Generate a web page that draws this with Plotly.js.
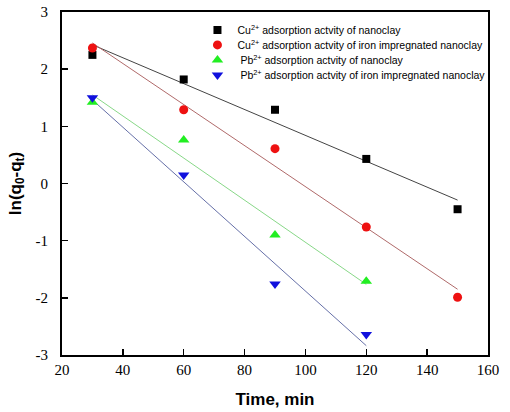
<!DOCTYPE html>
<html>
<head>
<meta charset="utf-8">
<script src="https://cdn.plot.ly/plotly-3.0.1.min.js"></script>
<style>html,body{margin:0;padding:0;background:#fff;}#chart{width:510px;height:412px;}</style>
</head>
<body>
<div id="chart"></div>
<script>
// Time (min)
var timeCu = [30, 60, 90, 120, 150];
var timePb = [30, 60, 90, 120];
// ln(q0 - qt) values
var cuNanoclay = [2.25, 1.82, 1.29, 0.43, -0.45];
var cuIronNanoclay = [2.37, 1.29, 0.61, -0.76, -1.99];
var pbNanoclay = [1.42, 0.76, -0.90, -1.71];
var pbIronNanoclay = [1.50, 0.15, -1.76, -2.64];

var seriesNames = [
  'Cu<sup>2+</sup> adsorption actvity of nanoclay',
  'Cu<sup>2+</sup> adsorption actvity of iron impregnated nanoclay',
  ' Pb<sup>2+</sup> adsorption actvity of nanoclay',
  ' Pb<sup>2+</sup> adsorption actvity of iron impregnated nanoclay'
];
var xTicks = [20, 40, 60, 80, 100, 120, 140, 160];
var yTicks = [-3, -2, -1, 0, 1, 2, 3];

// least-squares linear fit of each series (the drawn fit lines)
function fit(xs, ys) {
  var n = xs.length, mx = 0, my = 0;
  for (var i = 0; i < n; i++) { mx += xs[i]; my += ys[i]; }
  mx /= n; my /= n;
  var sxy = 0, sxx = 0;
  for (var j = 0; j < n; j++) { sxy += (xs[j]-mx)*(ys[j]-my); sxx += (xs[j]-mx)*(xs[j]-mx); }
  var b = sxy / sxx, a = my - b*mx;
  var x0 = xs[0], x1 = xs[n-1];
  return {x: [x0, x1], y: [a + b*x0, a + b*x1]};
}

var specs = [
  {x: timeCu, y: cuNanoclay, sym: 'square', col: '#000000', line: '#444444', size: 8},
  {x: timeCu, y: cuIronNanoclay, sym: 'circle', col: '#ee1111', line: '#b06a6a', size: 9},
  {x: timePb, y: pbNanoclay, sym: 'triangle-up', col: '#22ee22', line: '#88d888', size: 10},
  {x: timePb, y: pbIronNanoclay, sym: 'triangle-down', col: '#1010dd', line: '#6670a8', size: 10}
];

var traces = [];
specs.forEach(function(s, i) {
  var f = fit(s.x, s.y);
  traces.push({x: f.x, y: f.y, mode: 'lines', type: 'scatter', showlegend: false,
    line: {color: s.line, width: 1}, hoverinfo: 'skip'});
});
specs.forEach(function(s, i) {
  traces.push({x: s.x, y: s.y, mode: 'markers', type: 'scatter', name: seriesNames[i],
    marker: {symbol: s.sym, color: s.col, size: s.size, line: {width: 0}}});
});

var layout = {
  width: 510, height: 412,
  margin: {l: 62, r: 22, t: 12, b: 57},
  paper_bgcolor: '#fff', plot_bgcolor: '#fff',
  showlegend: true,
  legend: {x: 0.318, y: 0.99, xanchor: 'left', yanchor: 'top',
    bgcolor: 'rgba(0,0,0,0)', font: {family: 'Liberation Sans, Arial', size: 10.5, color: '#000'},
    tracegroupgap: 0, itemwidth: 30},
  xaxis: {range: [20, 160], tickvals: xTicks, ticktext: xTicks.map(String),
    ticks: 'inside', ticklen: 6, tickwidth: 1.5, tickcolor: '#000',
    showline: true, linecolor: '#000', linewidth: 2, mirror: true,
    showgrid: false, zeroline: false,
    tickfont: {family: 'Liberation Serif, Times New Roman', size: 15, color: '#000'},
    title: {text: '<b>Time, min</b>', font: {family: 'Liberation Sans, Arial', size: 17, color: '#000'}, standoff: 16}},
  yaxis: {range: [-3, 3], tickvals: yTicks, ticktext: yTicks.map(String),
    ticks: 'inside', ticklen: 6, tickwidth: 1.5, tickcolor: '#000',
    showline: true, linecolor: '#000', linewidth: 2, mirror: true,
    showgrid: false, zeroline: false, ticklabelstandoff: 9,
    tickfont: {family: 'Liberation Serif, Times New Roman', size: 15, color: '#000'},
    title: {text: '<b>ln(q<sub>0</sub>-q<sub>t</sub>)</b>', font: {family: 'Liberation Sans, Arial', size: 17, color: '#000'}, standoff: 10}}
};

Plotly.newPlot('chart', traces, layout, {displayModeBar: false, staticPlot: true}).then(function(gd) {
  // tighten legend row spacing to match the reference (15px per row)
  var items = gd.querySelectorAll('.legend .traces');
  var y0 = null;
  for (var i = 0; i < items.length; i++) {
    var t = items[i].getAttribute('transform') || '';
    var m = /translate\(\s*([-\d.]+)[ ,]+([-\d.]+)\s*\)/.exec(t);
    if (!m) continue;
    var tx = parseFloat(m[1]), ty = parseFloat(m[2]);
    if (y0 === null) y0 = ty;
    items[i].setAttribute('transform', 'translate(' + tx + ',' + (y0 + i * 15) + ')');
  }
});
</script>
</body>
</html>
